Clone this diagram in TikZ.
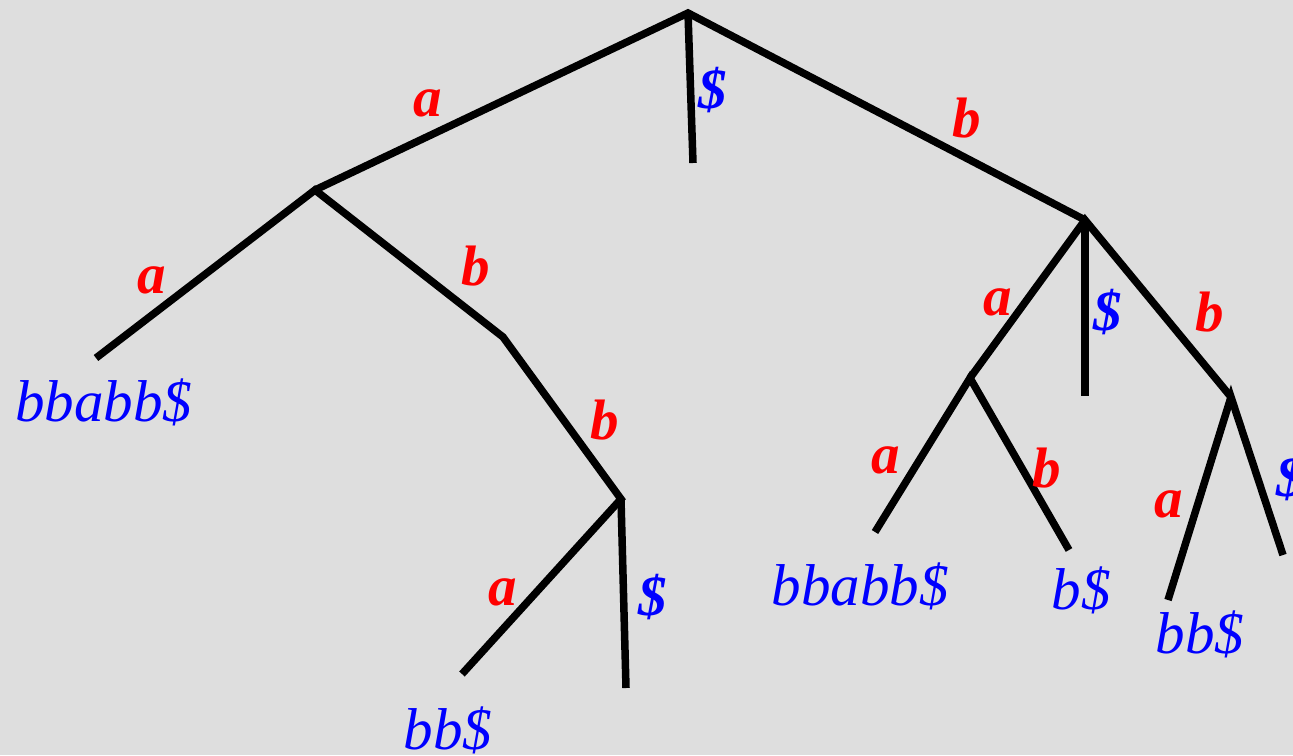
\documentclass[tikz,border=0pt]{standalone}
\usepackage{fontspec}
\setmainfont{Liberation Serif}
\definecolor{bg}{HTML}{DEDEDE}
\definecolor{lblred}{HTML}{FF0000}
\definecolor{lblblue}{HTML}{0000FF}
\begin{document}
\begin{tikzpicture}[x=1pt,y=-1pt,
  edge/.style={line width=7.5pt,black,line join=miter},
  elab/.style={font=\fontsize{57}{57}\selectfont\bfseries\itshape,text=lblred,inner sep=0pt},
  dlab/.style={font=\fontsize{57}{57}\selectfont\bfseries\itshape,text=lblblue,inner sep=0pt},
  leaf/.style={font=\fontsize{59}{59}\selectfont\itshape,text=lblblue,inner sep=0pt}]
\fill[bg] (0,0) rectangle (1293,755);
\useasboundingbox (0,0) rectangle (1293,755);
% internal nodes
\coordinate (root) at (688,13);
\coordinate (A) at (315,190);
\coordinate (B) at (1085,220);
\coordinate (Ab) at (503,337);
\coordinate (Abb) at (621,499);
\coordinate (Ba) at (970,378);
\coordinate (Bb) at (1231,397);
% leaf ends
\coordinate (r1) at (693,163);
\coordinate (Aa) at (96,358);
\coordinate (Abba) at (462,674);
\coordinate (Abbd) at (626,688);
\coordinate (Bd) at (1085,396);
\coordinate (Baa) at (875,532);
\coordinate (Bab) at (1069,550);
\coordinate (Bba) at (1168,600);
\coordinate (Bbd) at (1283,555);
% edges
\draw[edge] (A) -- (root) -- (B);
\draw[edge] (root) -- (r1);
\draw[edge] (Aa) -- (A) -- (Ab) -- (Abb) -- (Abba);
\draw[edge] (Abb) -- (Abbd);
\draw[edge] (Ba) -- (B) -- (Bb);
\draw[edge] (B) -- (Bd);
\draw[edge] (Baa) -- (Ba) -- (Bab);
\draw[edge] (Bba) -- (Bb) -- (Bbd);
% edge labels
\node[elab] (l1) at (428,103) {a};
\node[dlab] (l2) at (713,90) {\$};
\node[elab] (l3) at (967,118) {b};
\node[elab] (l4) at (152,280) {a};
\node[elab] (l5) at (476,266) {b};
\node[elab] (l6) at (605,420) {b};
\node[elab] (l7) at (503,592) {a};
\node[dlab] (l8) at (653,597) {\$};
\node[elab] (l9) at (998,302) {a};
\node[dlab] (l10) at (1108,312) {\$};
\node[elab] (l11) at (1210,312) {b};
\node[elab] (l12) at (886,460) {a};
\node[elab] (l13) at (1047,468) {b};
\node[elab] (l14) at (1169,504) {a};
\node[dlab] (l15) at (1291,478) {\$};
% leaf labels
\node[leaf] (t1) at (104,402) {bbabb\$};
\node[leaf] (t2) at (448,730) {bb\$};
\node[leaf] (t3) at (860,586) {bbabb\$};
\node[leaf] (t4) at (1081,590) {b\$};
\node[leaf] (t5) at (1200,634) {bb\$};
\end{tikzpicture}
\end{document}
